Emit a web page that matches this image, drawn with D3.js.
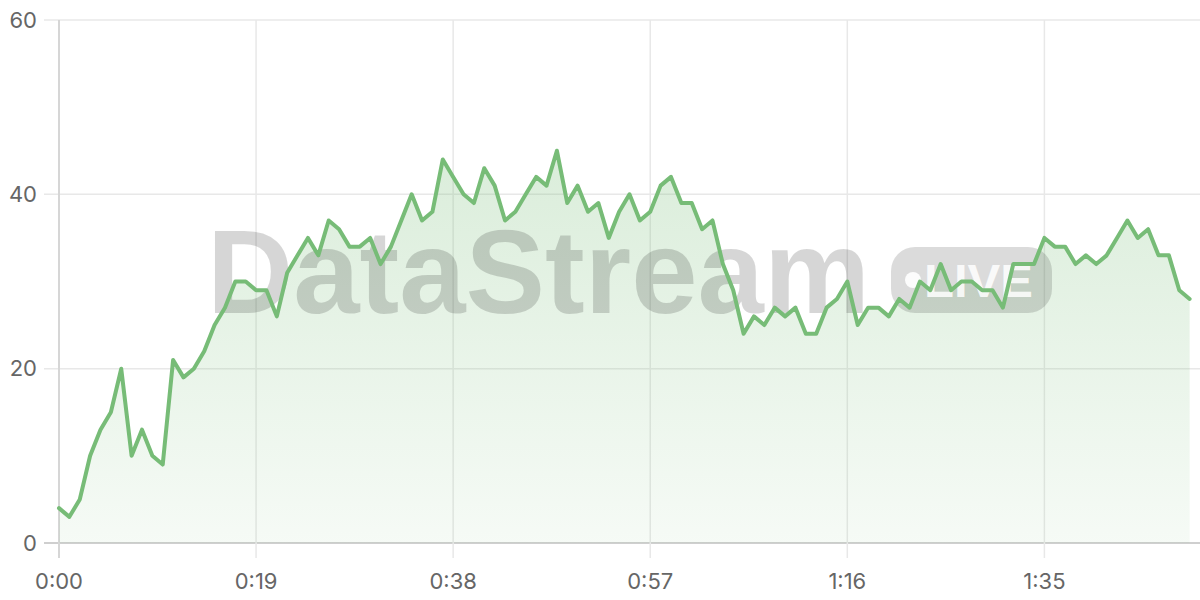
<!DOCTYPE html>
<html>
<head>
<meta charset="utf-8">
<script src="https://cdn.jsdelivr.net/npm/d3@7"></script>
<style>
  html, body { margin: 0; padding: 0; background: #fff; }
  svg { display: block; }
</style>
</head>
<body>
<svg id="chart" width="1200" height="600"></svg>
<script>
// ---- data (one sample per second, 0..109 s) ----
const values = [4,3,5,10,13,15,20,10,13,10,9,21,19,20,22,25,27,30,30,29,29,26,31,33,35,33,37,36,34,34,35,32,34,37,40,37,38,44,42,40,39,43,41,37,38,40,42,41,45,39,41,38,39,35,38,40,37,38,41,42,39,39,36,37,32,29,24,26,25,27,26,27,24,24,27,28,30,25,27,27,26,28,27,30,29,32,29,30,30,29,29,27,32,32,32,35,34,34,32,33,32,33,35,37,35,36,33,33,29,28];
const xTickValues = [0, 19, 38, 57, 76, 95];
const xTickLabels = ["0:00", "0:19", "0:38", "0:57", "1:16", "1:35"];
const yTickValues = [0, 20, 40, 60];
const watermarkText = "DataStream";
const badgeText = "LIVE";

(function () {
const svg = d3.select("#chart");
const mLeft = 59, mRight = 1200, mTop = 20, mBottom = 543;

const x = d3.scaleLinear().domain([0, 110]).range([mLeft, mRight]);
const y = d3.scaleLinear().domain([0, 60]).range([mBottom, mTop]);

const font = "Inter, 'Liberation Sans', Arial, sans-serif";

// gradient
const defs = svg.append("defs");
const grad = defs.append("linearGradient").attr("id", "areaGrad")
  .attr("gradientUnits", "userSpaceOnUse")
  .attr("x1", 0).attr("y1", y(45)).attr("x2", 0).attr("y2", mBottom);
grad.append("stop").attr("offset", "0%").attr("stop-color", "#7cbf7c").attr("stop-opacity", 0.28);
grad.append("stop").attr("offset", "100%").attr("stop-color", "#7cbf7c").attr("stop-opacity", 0.07);

// grid lines
const grid = svg.append("g");
grid.selectAll("line.h").data(yTickValues).join("line")
  .attr("x1", mLeft - 15).attr("x2", mRight)
  .attr("y1", d => y(d)).attr("y2", d => y(d))
  .attr("stroke", d => d === 0 ? "#cfcfcf" : "#e8e8e8")
  .attr("stroke-width", d => d === 0 ? 2 : 1.5);
grid.selectAll("line.v").data(xTickValues).join("line")
  .attr("x1", d => x(d)).attr("x2", d => x(d))
  .attr("y1", mTop).attr("y2", mBottom + 15)
  .attr("stroke", d => d === 0 ? "#d6d6d6" : "#e8e8e8")
  .attr("stroke-width", d => d === 0 ? 2 : 1.5);

// area
const area = d3.area()
  .x((d, i) => x(i))
  .y0(y(0))
  .y1(d => y(d));
svg.append("path").datum(values)
  .attr("d", area)
  .attr("fill", "url(#areaGrad)");

// watermark
const wm = svg.append("g");
wm.append("text")
  .attr("x", 207).attr("y", 313)
  .attr("font-family", "'Liberation Sans', Arial, sans-serif")
  .attr("font-weight", "bold")
  .attr("font-size", 118)
  .attr("textLength", 663)
  .attr("lengthAdjust", "spacingAndGlyphs")
  .attr("fill", "#000").attr("fill-opacity", 0.16)
  .text(watermarkText);
wm.append("rect")
  .attr("x", 891).attr("y", 247).attr("width", 161).attr("height", 66)
  .attr("rx", 24).attr("ry", 24)
  .attr("fill", "#000").attr("fill-opacity", 0.14);
wm.append("circle")
  .attr("cx", 913).attr("cy", 280).attr("r", 8)
  .attr("fill", "#fff").attr("fill-opacity", 0.9);
wm.append("text")
  .attr("x", 924).attr("y", 297)
  .attr("font-family", "'Liberation Sans', Arial, sans-serif")
  .attr("font-weight", "bold")
  .attr("font-size", 47)
  .attr("textLength", 109)
  .attr("lengthAdjust", "spacingAndGlyphs")
  .attr("fill", "#fff").attr("fill-opacity", 0.85)
  .text(badgeText);

// line
const line = d3.line()
  .x((d, i) => x(i))
  .y(d => y(d));
svg.append("path").datum(values)
  .attr("d", line)
  .attr("fill", "none")
  .attr("stroke", "#77bc77")
  .attr("stroke-width", 4)
  .attr("stroke-linejoin", "round")
  .attr("stroke-linecap", "round");

// axis labels
svg.append("g").selectAll("text").data(yTickValues).join("text")
  .attr("x", 37).attr("y", d => y(d))
  .attr("dy", "0.35em")
  .attr("text-anchor", "end")
  .attr("font-family", font)
  .attr("font-size", 22)
  .attr("fill", "#666")
  .text(d => d);

svg.append("g").selectAll("text").data(xTickValues).join("text")
  .attr("x", d => x(d)).attr("y", 581)
  .attr("dy", "0.35em")
  .attr("text-anchor", "middle")
  .attr("font-family", font)
  .attr("font-size", 22)
  .attr("fill", "#666")
  .text((d, i) => xTickLabels[i]);
})();
</script>
</body>
</html>
